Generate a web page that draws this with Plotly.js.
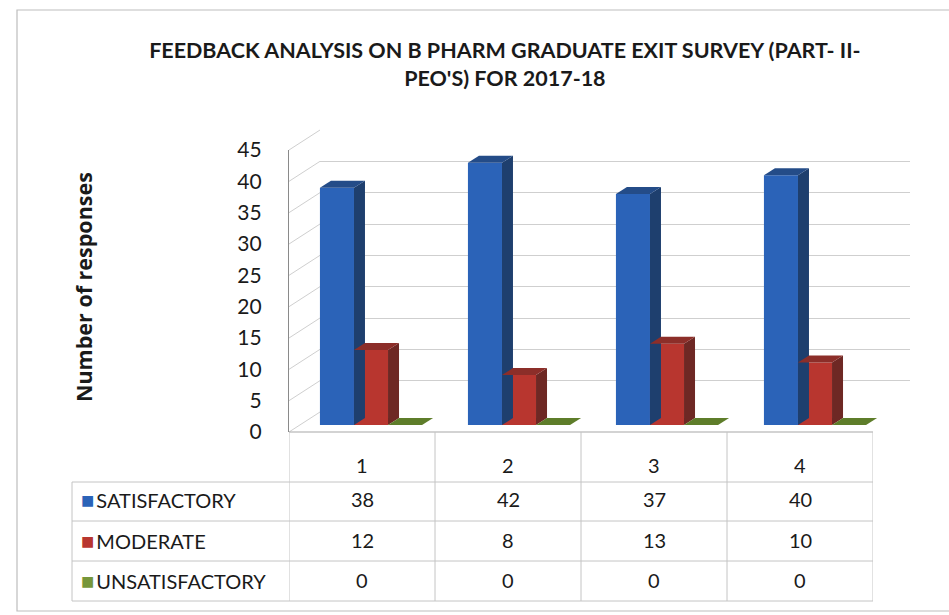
<!DOCTYPE html>
<html>
<head>
<meta charset="utf-8">
<script src="https://cdn.plot.ly/plotly-3.0.1.min.js"></script>
<style>html,body{margin:0;padding:0;background:#fff}#chart{width:949px;height:615px}</style>
</head>
<body>
<div id="chart"></div>
<script>
// ---- data ----
const categories = ['1', '2', '3', '4'];
const seriesNames = ['SATISFACTORY', 'MODERATE', 'UNSATISFACTORY'];
const satisfactory = [38, 42, 37, 40];
const moderate = [12, 8, 13, 10];
const unsatisfactory = [0, 0, 0, 0];
const yTickValues = [0, 5, 10, 15, 20, 25, 30, 35, 40, 45];
const titleText = "FEEDBACK ANALYSIS ON B PHARM GRADUATE EXIT SURVEY (PART- II-<br>PEO'S) FOR 2017-18";
const yTitleText = 'Number of responses';

// ---- styles ----
const W = 949, H = 615;
const faceColors = ['#2B63B8', '#B8362F', '#76963A'];
const sideColors = ['#1E3F6E', '#6E2824', '#4F6A22'];
const topColors  = ['#244C88', '#8C2E29', '#5E7D2A'];
const gridColor = '#CFCFCF';
const tableLine = '#C4C4C4';
const px = v => v / W;            // pixel x -> paper
const py = v => 1 - v / H;        // pixel y -> paper

// plane geometry (pixels)
const front = {x0: 289, x1: 873, y0: 432, y45: 150};
const back  = {x0: 320, x1: 910, y0: 412, y45: 130};
const mid   = {x0: 297, x1: 889, y0: 425, y45: 144};
const ymax = 45;

const idx = categories.map((c, i) => i);
const series = [satisfactory, moderate, unsatisfactory];
const barGap = 0.31;
const groupW = 1 - barGap;
const barW = groupW / series.length;
const depthPx = {dx: 11, dy: 7};
const dxU = depthPx.dx / ((mid.x1 - mid.x0) / 4);
const dyU = depthPx.dy / ((mid.y0 - mid.y45) / ymax);

const traces = [];
// back wall subplot (placeholder trace)
traces.push({x: [], y: [], type: 'scatter', xaxis: 'x', yaxis: 'y', showlegend: false, hoverinfo: 'skip'});
// bars (front faces)
series.forEach((vals, s) => {
  traces.push({
    type: 'bar', x: idx, y: vals, name: seriesNames[s], xaxis: 'x2', yaxis: 'y2',
    marker: {color: faceColors[s], line: {width: 0}}, showlegend: false, hoverinfo: 'y'
  });
});
// front axis subplot (placeholder)
traces.push({x: [], y: [], type: 'scatter', xaxis: 'x3', yaxis: 'y3', showlegend: false, hoverinfo: 'skip'});

const shapes = [];
// 3D side and top faces of bars (data coordinates on bar axes)
series.forEach((vals, s) => {
  vals.forEach((v, i) => {
    const xl = idx[i] - groupW / 2 + s * barW;
    const xr = xl + barW;
    if (v > 0) {
      shapes.push({type: 'path', xref: 'x2', yref: 'y2', layer: 'above',
        path: `M${xr},0 L${xr + dxU},${dyU} L${xr + dxU},${v + dyU} L${xr},${v} Z`,
        fillcolor: sideColors[s], line: {width: 0}});
    }
    shapes.push({type: 'path', xref: 'x2', yref: 'y2', layer: 'above',
      path: `M${xl},${v} L${xl + dxU},${v + dyU} L${xr + dxU},${v + dyU} L${xr},${v} Z`,
      fillcolor: topColors[s], line: {width: 0}});
  });
});

// side wall gridlines (front tick -> back tick)
const fy = v => front.y0 - (front.y0 - front.y45) * v / ymax;
const by = v => back.y0 - (back.y0 - back.y45) * v / ymax;
yTickValues.forEach(v => {
  shapes.push({type: 'line', xref: 'paper', yref: 'paper', layer: 'below',
    x0: px(front.x0), y0: py(fy(v)), x1: px(back.x0), y1: py(by(v)),
    line: {color: gridColor, width: 1}});
});
// front floor edge
shapes.push({type: 'line', xref: 'paper', yref: 'paper', layer: 'below',
  x0: px(front.x0), y0: py(front.y0), x1: px(front.x1), y1: py(front.y0), line: {color: '#A8A8A8', width: 1.2}});

// ---- data table ----
const tbl = {left: 72, rowTops: [482, 521, 561], bottom: 601};
const rowLines = tbl.rowTops.concat([tbl.bottom]);
rowLines.forEach(yy => {
  shapes.push({type: 'line', xref: 'paper', yref: 'paper', x0: px(tbl.left), x1: px(front.x1), y0: py(yy), y1: py(yy),
    line: {color: tableLine, width: 1}});
});
// left border of legend column
shapes.push({type: 'line', xref: 'paper', yref: 'paper', x0: px(tbl.left), x1: px(tbl.left), y0: py(tbl.rowTops[0]), y1: py(tbl.bottom),
  line: {color: tableLine, width: 1}});
// column borders at category boundaries (front axis scale)
idx.concat([idx.length]).forEach(i => {
  shapes.push({type: 'line', xref: 'x3', yref: 'paper', x0: i - 0.5, x1: i - 0.5, y0: py(front.y0), y1: py(tbl.bottom),
    line: {color: tableLine, width: 1}});
});
// outer chart border
shapes.push({type: 'rect', xref: 'paper', yref: 'paper', x0: px(17), x1: px(960), y0: py(611), y1: py(10),
  line: {color: '#BDBDBD', width: 1.2}, fillcolor: 'rgba(0,0,0,0)'});

const annotations = [];
const tableFont = {family: 'Lato, "Open Sans", sans-serif', size: 20, color: '#1a1a1a'};
// header numbers
categories.forEach((c, i) => {
  annotations.push({xref: 'x3', yref: 'paper', x: idx[i], y: py(465), text: c, showarrow: false,
    font: tableFont, xanchor: 'center', yanchor: 'middle'});
});
const rowCenters = [499, 540, 580];
series.forEach((vals, s) => {
  annotations.push({xref: 'paper', yref: 'paper', x: px(79), y: py(rowCenters[s]),
    text: `<span style="color:${faceColors[s]};font-size:22px">■</span><span style="font-size:8px"> </span>${seriesNames[s]}`,
    showarrow: false, font: tableFont, xanchor: 'left', yanchor: 'middle'});
  vals.forEach((v, i) => {
    annotations.push({xref: 'x3', yref: 'paper', x: idx[i], y: py(rowCenters[s]), text: String(v), showarrow: false,
      font: tableFont, xanchor: 'center', yanchor: 'middle'});
  });
});
// y axis title
annotations.push({xref: 'paper', yref: 'paper', x: px(83), y: py(287), text: yTitleText, textangle: -90, showarrow: false,
  font: {family: '"Open Sans", sans-serif', size: 21.5, color: '#1a1a1a', weight: 'bold'}, xanchor: 'center', yanchor: 'middle'});

const layout = {
  width: W, height: H,
  margin: {l: 0, r: 0, t: 0, b: 0},
  paper_bgcolor: '#fff', plot_bgcolor: 'rgba(0,0,0,0)',
  showlegend: false,
  barmode: 'group', bargap: barGap, bargroupgap: 0,
  title: {text: titleText, x: 0.532, xanchor: 'center', y: py(58), yanchor: 'middle', yref: 'paper',
    font: {family: 'Lato, sans-serif', size: 21.5, color: '#1a1a1a', weight: 'bold'}},
  // back wall
  xaxis: {domain: [px(back.x0), px(back.x1)], range: [-0.5, 3.5], visible: false, anchor: 'y', fixedrange: true},
  yaxis: {domain: [py(back.y0), py(back.y45)], range: [0, ymax], anchor: 'x', tickvals: yTickValues,
    showticklabels: false, ticks: '', showgrid: true, gridcolor: gridColor, gridwidth: 1, zeroline: false, showline: false},
  // bars
  xaxis2: {domain: [px(mid.x0), px(mid.x1)], range: [-0.5, 3.5], visible: false, anchor: 'y2'},
  yaxis2: {domain: [py(mid.y0), py(mid.y45)], range: [0, ymax], visible: false, anchor: 'x2'},
  // front axis
  xaxis3: {domain: [px(front.x0), px(front.x1)], range: [-0.5, 3.5], visible: false, anchor: 'y3'},
  yaxis3: {domain: [py(front.y0), py(front.y45)], range: [0, ymax], anchor: 'x3', tickvals: yTickValues,
    showgrid: false, zeroline: false, showline: true, linecolor: '#8A8A8A', linewidth: 1.2, ticks: '',
    ticklabelstandoff: 22, tickfont: {family: 'Lato, sans-serif', size: 21, color: '#1a1a1a'}},
  shapes: shapes,
  annotations: annotations
};

Plotly.newPlot('chart', traces, layout, {staticPlot: true, displayModeBar: false});
</script>
</body>
</html>
